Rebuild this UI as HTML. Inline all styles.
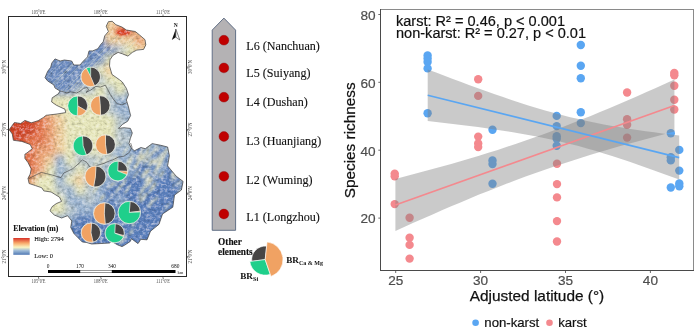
<!DOCTYPE html>
<html><head><meta charset="utf-8"><style>
html,body{margin:0;padding:0;background:#fff;width:700px;height:334px;overflow:hidden}
svg{display:block;will-change:transform}
</style></head><body>
<svg width="700" height="334" viewBox="0 0 700 334">
<defs>
<clipPath id="mapclip"><polygon points="108.4,21.7 112.2,21.3 115.9,24.7 121.9,27.0 126.4,30.0 135.3,31.5 139.8,35.2 145.0,39.7 145.8,44.9 143.6,49.4 136.8,50.1 132.3,52.4 127.9,56.1 122.6,53.9 118.1,52.4 112.9,55.4 109.9,59.9 109.5,66.0 112.0,74.5 119.4,79.7 122.3,82.0 126.4,88.4 128.5,94.7 126.4,100.0 128.5,107.0 130.6,115.6 127.7,121.2 122.5,124.4 118.5,128.4 123.8,127.7 130.4,128.4 132.3,133.0 130.4,138.3 129.0,143.5 131.0,147.5 134.3,150.8 140.9,147.5 145.3,148.7 152.2,143.6 160.8,145.3 167.6,147.0 169.4,155.6 167.6,165.9 176.2,176.2 183.1,181.4 181.4,190.0 174.5,195.1 172.8,207.2 162.5,214.0 159.0,224.3 150.5,231.2 147.0,239.8 140.8,239.3 138.0,243.6 131.4,238.7 130.3,241.4 124.9,245.0 122.0,246.6 117.9,245.0 111.4,241.4 109.5,243.0 101.0,243.5 91.7,244.0 86.3,242.4 82.3,242.0 78.0,237.7 73.9,233.5 70.7,227.3 71.8,221.0 67.6,215.7 61.6,218.0 54.3,215.0 50.0,210.8 52.2,206.6 56.4,203.5 61.6,201.4 59.5,197.2 51.1,192.0 43.8,190.9 41.7,187.7 35.4,185.6 29.1,183.5 28.0,178.3 30.2,174.1 31.2,168.9 28.0,162.6 24.9,158.4 24.9,154.2 27.0,152.9 32.3,148.7 30.2,144.5 21.8,141.4 13.4,140.3 12.3,134.0 9.2,129.8 11.3,126.7 14.4,122.5 20.7,123.5 24.9,120.4 31.3,122.8 38.1,120.7 43.5,117.4 46.2,115.3 57.0,114.0 65.7,112.6 65.0,109.3 56.3,105.2 51.6,101.9 52.2,97.8 58.3,93.8 60.0,91.0 55.0,88.0 53.9,85.0 47.6,80.9 45.0,77.7 47.6,71.4 50.7,67.3 51.8,63.0 55.0,58.9 60.2,61.0 64.4,60.0 71.7,61.0 73.8,65.0 80.0,65.0 83.0,61.4 87.5,56.9 89.0,50.9 92.7,50.9 97.9,48.7 100.9,44.2 103.2,41.9 104.7,35.9 108.4,31.5 106.2,26.2"/></clipPath>
<filter id="blur6" x="-50%" y="-50%" width="200%" height="200%"><feGaussianBlur stdDeviation="6"/></filter>
<filter id="blur3" x="-50%" y="-50%" width="200%" height="200%"><feGaussianBlur stdDeviation="3"/></filter>
<filter id="blur1" x="-50%" y="-50%" width="200%" height="200%"><feGaussianBlur stdDeviation="1.2"/></filter>
<linearGradient id="elev" x1="0" y1="0" x2="0" y2="1"><stop offset="0" stop-color="#d73027"/><stop offset="0.3" stop-color="#f8a96a"/><stop offset="0.55" stop-color="#fbf4c0"/><stop offset="0.75" stop-color="#9fbcd8"/><stop offset="1" stop-color="#4f78b4"/></linearGradient>
<filter id="texblend" x="0" y="0" width="200" height="300" filterUnits="userSpaceOnUse"><feTurbulence type="fractalNoise" baseFrequency="0.28 0.35" numOctaves="3" seed="5" result="noise"/><feColorMatrix in="noise" type="matrix" values="0.33 0.33 0.33 0 0.005  0.33 0.33 0.33 0 0.005  0.33 0.33 0.33 0 0.005  0 0 0 0 1" result="g"/><feBlend in="SourceGraphic" in2="g" mode="overlay" result="b"/><feComposite in="b" in2="SourceAlpha" operator="in"/></filter>
</defs>
<rect x="8.5" y="16.5" width="178" height="260" fill="#fff" stroke="#2a2a2a" stroke-width="1"/>
<line x1="38.5" y1="14.5" x2="38.5" y2="16.5" stroke="#333" stroke-width="0.6"/>
<text x="38.5" y="13.8" font-family="Liberation Serif" font-size="5.4" fill="#4a4a4a" text-anchor="middle" textLength="14" lengthAdjust="spacingAndGlyphs">105°0'E</text>
<line x1="38.5" y1="276.5" x2="38.5" y2="278.5" stroke="#333" stroke-width="0.6"/>
<text x="38.5" y="282.8" font-family="Liberation Serif" font-size="5.4" fill="#4a4a4a" text-anchor="middle" textLength="14" lengthAdjust="spacingAndGlyphs">105°0'E</text>
<line x1="100.8" y1="14.5" x2="100.8" y2="16.5" stroke="#333" stroke-width="0.6"/>
<text x="100.8" y="13.8" font-family="Liberation Serif" font-size="5.4" fill="#4a4a4a" text-anchor="middle" textLength="14" lengthAdjust="spacingAndGlyphs">108°0'E</text>
<line x1="100.8" y1="276.5" x2="100.8" y2="278.5" stroke="#333" stroke-width="0.6"/>
<text x="100.8" y="282.8" font-family="Liberation Serif" font-size="5.4" fill="#4a4a4a" text-anchor="middle" textLength="14" lengthAdjust="spacingAndGlyphs">108°0'E</text>
<line x1="163" y1="14.5" x2="163" y2="16.5" stroke="#333" stroke-width="0.6"/>
<text x="163" y="13.8" font-family="Liberation Serif" font-size="5.4" fill="#4a4a4a" text-anchor="middle" textLength="14" lengthAdjust="spacingAndGlyphs">111°0'E</text>
<line x1="163" y1="276.5" x2="163" y2="278.5" stroke="#333" stroke-width="0.6"/>
<text x="163" y="282.8" font-family="Liberation Serif" font-size="5.4" fill="#4a4a4a" text-anchor="middle" textLength="14" lengthAdjust="spacingAndGlyphs">111°0'E</text>
<line x1="6.5" y1="67" x2="8.5" y2="67" stroke="#333" stroke-width="0.6"/>
<text transform="translate(5.8,67) rotate(-90)" font-family="Liberation Serif" font-size="5.4" fill="#4a4a4a" text-anchor="middle" textLength="14" lengthAdjust="spacingAndGlyphs">30°0'N</text>
<line x1="186.5" y1="67" x2="188.5" y2="67" stroke="#333" stroke-width="0.6"/>
<text transform="translate(192.3,67) rotate(-90)" font-family="Liberation Serif" font-size="5.4" fill="#4a4a4a" text-anchor="middle" textLength="14" lengthAdjust="spacingAndGlyphs">30°0'N</text>
<line x1="6.5" y1="129.5" x2="8.5" y2="129.5" stroke="#333" stroke-width="0.6"/>
<text transform="translate(5.8,129.5) rotate(-90)" font-family="Liberation Serif" font-size="5.4" fill="#4a4a4a" text-anchor="middle" textLength="14" lengthAdjust="spacingAndGlyphs">27°0'N</text>
<line x1="186.5" y1="129.5" x2="188.5" y2="129.5" stroke="#333" stroke-width="0.6"/>
<text transform="translate(192.3,129.5) rotate(-90)" font-family="Liberation Serif" font-size="5.4" fill="#4a4a4a" text-anchor="middle" textLength="14" lengthAdjust="spacingAndGlyphs">27°0'N</text>
<line x1="6.5" y1="193.2" x2="8.5" y2="193.2" stroke="#333" stroke-width="0.6"/>
<text transform="translate(5.8,193.2) rotate(-90)" font-family="Liberation Serif" font-size="5.4" fill="#4a4a4a" text-anchor="middle" textLength="14" lengthAdjust="spacingAndGlyphs">24°0'N</text>
<line x1="186.5" y1="193.2" x2="188.5" y2="193.2" stroke="#333" stroke-width="0.6"/>
<text transform="translate(192.3,193.2) rotate(-90)" font-family="Liberation Serif" font-size="5.4" fill="#4a4a4a" text-anchor="middle" textLength="14" lengthAdjust="spacingAndGlyphs">24°0'N</text>
<line x1="6.5" y1="256.6" x2="8.5" y2="256.6" stroke="#333" stroke-width="0.6"/>
<text transform="translate(5.8,256.6) rotate(-90)" font-family="Liberation Serif" font-size="5.4" fill="#4a4a4a" text-anchor="middle" textLength="14" lengthAdjust="spacingAndGlyphs">21°0'N</text>
<line x1="186.5" y1="256.6" x2="188.5" y2="256.6" stroke="#333" stroke-width="0.6"/>
<text transform="translate(192.3,256.6) rotate(-90)" font-family="Liberation Serif" font-size="5.4" fill="#4a4a4a" text-anchor="middle" textLength="14" lengthAdjust="spacingAndGlyphs">21°0'N</text>
<g clip-path="url(#mapclip)"><g filter="url(#texblend)">
<rect x="0" y="0" width="200" height="280" fill="#5b81be"/>
<g filter="url(#blur3)"><rect x="100" y="15" width="10" height="10" fill="#f0cf9e"/><rect x="110" y="15" width="10" height="10" fill="#f0cf9e"/><rect x="120" y="15" width="10" height="10" fill="#f0cf9e"/><rect x="95" y="25" width="10" height="10" fill="#f0cf9e"/><rect x="105" y="25" width="10" height="10" fill="#f0cf9e"/><rect x="115" y="25" width="10" height="10" fill="#e5774e"/><rect x="125" y="25" width="10" height="10" fill="#e5774e"/><rect x="135" y="25" width="10" height="10" fill="#f0cf9e"/><rect x="145" y="25" width="10" height="10" fill="#f0cf9e"/><rect x="85" y="35" width="10" height="10" fill="#6d8dc2"/><rect x="95" y="35" width="10" height="10" fill="#6d8dc2"/><rect x="105" y="35" width="10" height="10" fill="#f0cf9e"/><rect x="115" y="35" width="10" height="10" fill="#f0cf9e"/><rect x="125" y="35" width="10" height="10" fill="#f0cf9e"/><rect x="135" y="35" width="10" height="10" fill="#eca274"/><rect x="145" y="35" width="10" height="10" fill="#f0cf9e"/><rect x="75" y="45" width="10" height="10" fill="#6d8dc2"/><rect x="85" y="45" width="10" height="10" fill="#6d8dc2"/><rect x="95" y="45" width="10" height="10" fill="#6d8dc2"/><rect x="105" y="45" width="10" height="10" fill="#6d8dc2"/><rect x="115" y="45" width="10" height="10" fill="#b8c6cc"/><rect x="125" y="45" width="10" height="10" fill="#e6e6ba"/><rect x="135" y="45" width="10" height="10" fill="#f0cf9e"/><rect x="145" y="45" width="10" height="10" fill="#f0cf9e"/><rect x="35" y="55" width="10" height="10" fill="#6d8dc2"/><rect x="45" y="55" width="10" height="10" fill="#6d8dc2"/><rect x="55" y="55" width="10" height="10" fill="#6d8dc2"/><rect x="65" y="55" width="10" height="10" fill="#6d8dc2"/><rect x="75" y="55" width="10" height="10" fill="#6d8dc2"/><rect x="85" y="55" width="10" height="10" fill="#6d8dc2"/><rect x="95" y="55" width="10" height="10" fill="#6d8dc2"/><rect x="105" y="55" width="10" height="10" fill="#e6e6ba"/><rect x="115" y="55" width="10" height="10" fill="#f0cf9e"/><rect x="125" y="55" width="10" height="10" fill="#e6e6ba"/><rect x="35" y="65" width="10" height="10" fill="#6d8dc2"/><rect x="45" y="65" width="10" height="10" fill="#6d8dc2"/><rect x="55" y="65" width="10" height="10" fill="#6d8dc2"/><rect x="65" y="65" width="10" height="10" fill="#6d8dc2"/><rect x="75" y="65" width="10" height="10" fill="#6d8dc2"/><rect x="85" y="65" width="10" height="10" fill="#6d8dc2"/><rect x="95" y="65" width="10" height="10" fill="#e6e6ba"/><rect x="105" y="65" width="10" height="10" fill="#f0cf9e"/><rect x="115" y="65" width="10" height="10" fill="#e6e6ba"/><rect x="125" y="65" width="10" height="10" fill="#e6e6ba"/><rect x="35" y="75" width="10" height="10" fill="#6d8dc2"/><rect x="45" y="75" width="10" height="10" fill="#6d8dc2"/><rect x="55" y="75" width="10" height="10" fill="#6d8dc2"/><rect x="65" y="75" width="10" height="10" fill="#6d8dc2"/><rect x="75" y="75" width="10" height="10" fill="#6d8dc2"/><rect x="85" y="75" width="10" height="10" fill="#6d8dc2"/><rect x="95" y="75" width="10" height="10" fill="#b8c6cc"/><rect x="105" y="75" width="10" height="10" fill="#e6e6ba"/><rect x="115" y="75" width="10" height="10" fill="#e6e6ba"/><rect x="125" y="75" width="10" height="10" fill="#e6e6ba"/><rect x="35" y="85" width="10" height="10" fill="#6d8dc2"/><rect x="45" y="85" width="10" height="10" fill="#6d8dc2"/><rect x="55" y="85" width="10" height="10" fill="#6d8dc2"/><rect x="65" y="85" width="10" height="10" fill="#6d8dc2"/><rect x="75" y="85" width="10" height="10" fill="#b8c6cc"/><rect x="85" y="85" width="10" height="10" fill="#b8c6cc"/><rect x="95" y="85" width="10" height="10" fill="#e6e6ba"/><rect x="105" y="85" width="10" height="10" fill="#b8c6cc"/><rect x="115" y="85" width="10" height="10" fill="#e6e6ba"/><rect x="125" y="85" width="10" height="10" fill="#b8c6cc"/><rect x="35" y="95" width="10" height="10" fill="#e6e6ba"/><rect x="45" y="95" width="10" height="10" fill="#e6e6ba"/><rect x="55" y="95" width="10" height="10" fill="#e6e6ba"/><rect x="65" y="95" width="10" height="10" fill="#e6e6ba"/><rect x="75" y="95" width="10" height="10" fill="#e6e6ba"/><rect x="85" y="95" width="10" height="10" fill="#e6e6ba"/><rect x="95" y="95" width="10" height="10" fill="#e6e6ba"/><rect x="105" y="95" width="10" height="10" fill="#b8c6cc"/><rect x="115" y="95" width="10" height="10" fill="#98b2d0"/><rect x="125" y="95" width="10" height="10" fill="#98b2d0"/><rect x="-5" y="105" width="10" height="10" fill="#d54a2b"/><rect x="5" y="105" width="10" height="10" fill="#d54a2b"/><rect x="15" y="105" width="10" height="10" fill="#d54a2b"/><rect x="25" y="105" width="10" height="10" fill="#e5774e"/><rect x="35" y="105" width="10" height="10" fill="#eca274"/><rect x="45" y="105" width="10" height="10" fill="#f0cf9e"/><rect x="55" y="105" width="10" height="10" fill="#e6e6ba"/><rect x="65" y="105" width="10" height="10" fill="#e6e6ba"/><rect x="75" y="105" width="10" height="10" fill="#e6e6ba"/><rect x="85" y="105" width="10" height="10" fill="#e6e6ba"/><rect x="95" y="105" width="10" height="10" fill="#e6e6ba"/><rect x="105" y="105" width="10" height="10" fill="#b8c6cc"/><rect x="115" y="105" width="10" height="10" fill="#98b2d0"/><rect x="125" y="105" width="10" height="10" fill="#98b2d0"/><rect x="-5" y="115" width="10" height="10" fill="#d54a2b"/><rect x="5" y="115" width="10" height="10" fill="#d54a2b"/><rect x="15" y="115" width="10" height="10" fill="#d54a2b"/><rect x="25" y="115" width="10" height="10" fill="#d54a2b"/><rect x="35" y="115" width="10" height="10" fill="#e5774e"/><rect x="45" y="115" width="10" height="10" fill="#eca274"/><rect x="55" y="115" width="10" height="10" fill="#f0cf9e"/><rect x="65" y="115" width="10" height="10" fill="#e6e6ba"/><rect x="75" y="115" width="10" height="10" fill="#e6e6ba"/><rect x="85" y="115" width="10" height="10" fill="#e6e6ba"/><rect x="95" y="115" width="10" height="10" fill="#e6e6ba"/><rect x="105" y="115" width="10" height="10" fill="#e6e6ba"/><rect x="115" y="115" width="10" height="10" fill="#b8c6cc"/><rect x="125" y="115" width="10" height="10" fill="#98b2d0"/><rect x="135" y="115" width="10" height="10" fill="#98b2d0"/><rect x="145" y="115" width="10" height="10" fill="#98b2d0"/><rect x="-5" y="125" width="10" height="10" fill="#d54a2b"/><rect x="5" y="125" width="10" height="10" fill="#d54a2b"/><rect x="15" y="125" width="10" height="10" fill="#d54a2b"/><rect x="25" y="125" width="10" height="10" fill="#d54a2b"/><rect x="35" y="125" width="10" height="10" fill="#e5774e"/><rect x="45" y="125" width="10" height="10" fill="#eca274"/><rect x="55" y="125" width="10" height="10" fill="#f0cf9e"/><rect x="65" y="125" width="10" height="10" fill="#e6e6ba"/><rect x="75" y="125" width="10" height="10" fill="#e6e6ba"/><rect x="85" y="125" width="10" height="10" fill="#e6e6ba"/><rect x="95" y="125" width="10" height="10" fill="#e6e6ba"/><rect x="105" y="125" width="10" height="10" fill="#e6e6ba"/><rect x="115" y="125" width="10" height="10" fill="#b8c6cc"/><rect x="125" y="125" width="10" height="10" fill="#98b2d0"/><rect x="135" y="125" width="10" height="10" fill="#98b2d0"/><rect x="-5" y="135" width="10" height="10" fill="#d54a2b"/><rect x="5" y="135" width="10" height="10" fill="#d54a2b"/><rect x="15" y="135" width="10" height="10" fill="#d54a2b"/><rect x="25" y="135" width="10" height="10" fill="#e5774e"/><rect x="35" y="135" width="10" height="10" fill="#e5774e"/><rect x="45" y="135" width="10" height="10" fill="#eca274"/><rect x="55" y="135" width="10" height="10" fill="#f0cf9e"/><rect x="65" y="135" width="10" height="10" fill="#e6e6ba"/><rect x="75" y="135" width="10" height="10" fill="#e6e6ba"/><rect x="85" y="135" width="10" height="10" fill="#e6e6ba"/><rect x="95" y="135" width="10" height="10" fill="#e6e6ba"/><rect x="105" y="135" width="10" height="10" fill="#e6e6ba"/><rect x="115" y="135" width="10" height="10" fill="#b8c6cc"/><rect x="125" y="135" width="10" height="10" fill="#b8c6cc"/><rect x="135" y="135" width="10" height="10" fill="#98b2d0"/><rect x="145" y="135" width="10" height="10" fill="#98b2d0"/><rect x="155" y="135" width="10" height="10" fill="#98b2d0"/><rect x="-5" y="145" width="10" height="10" fill="#e5774e"/><rect x="5" y="145" width="10" height="10" fill="#e5774e"/><rect x="15" y="145" width="10" height="10" fill="#e5774e"/><rect x="25" y="145" width="10" height="10" fill="#e5774e"/><rect x="35" y="145" width="10" height="10" fill="#eca274"/><rect x="45" y="145" width="10" height="10" fill="#eca274"/><rect x="55" y="145" width="10" height="10" fill="#f0cf9e"/><rect x="65" y="145" width="10" height="10" fill="#e6e6ba"/><rect x="75" y="145" width="10" height="10" fill="#b8c6cc"/><rect x="85" y="145" width="10" height="10" fill="#e6e6ba"/><rect x="95" y="145" width="10" height="10" fill="#e6e6ba"/><rect x="105" y="145" width="10" height="10" fill="#b8c6cc"/><rect x="115" y="145" width="10" height="10" fill="#98b2d0"/><rect x="125" y="145" width="10" height="10" fill="#98b2d0"/><rect x="135" y="145" width="10" height="10" fill="#5b81be"/><rect x="145" y="145" width="10" height="10" fill="#98b2d0"/><rect x="155" y="145" width="10" height="10" fill="#5b81be"/><rect x="165" y="145" width="10" height="10" fill="#98b2d0"/><rect x="-5" y="155" width="10" height="10" fill="#e5774e"/><rect x="5" y="155" width="10" height="10" fill="#e5774e"/><rect x="15" y="155" width="10" height="10" fill="#e5774e"/><rect x="25" y="155" width="10" height="10" fill="#e5774e"/><rect x="35" y="155" width="10" height="10" fill="#eca274"/><rect x="45" y="155" width="10" height="10" fill="#f0cf9e"/><rect x="55" y="155" width="10" height="10" fill="#98b2d0"/><rect x="65" y="155" width="10" height="10" fill="#e6e6ba"/><rect x="75" y="155" width="10" height="10" fill="#b8c6cc"/><rect x="85" y="155" width="10" height="10" fill="#b8c6cc"/><rect x="95" y="155" width="10" height="10" fill="#b8c6cc"/><rect x="105" y="155" width="10" height="10" fill="#b8c6cc"/><rect x="115" y="155" width="10" height="10" fill="#98b2d0"/><rect x="125" y="155" width="10" height="10" fill="#98b2d0"/><rect x="135" y="155" width="10" height="10" fill="#5b81be"/><rect x="145" y="155" width="10" height="10" fill="#5b81be"/><rect x="155" y="155" width="10" height="10" fill="#98b2d0"/><rect x="165" y="155" width="10" height="10" fill="#5b81be"/><rect x="-5" y="165" width="10" height="10" fill="#e5774e"/><rect x="5" y="165" width="10" height="10" fill="#e5774e"/><rect x="15" y="165" width="10" height="10" fill="#e5774e"/><rect x="25" y="165" width="10" height="10" fill="#e5774e"/><rect x="35" y="165" width="10" height="10" fill="#eca274"/><rect x="45" y="165" width="10" height="10" fill="#e6e6ba"/><rect x="55" y="165" width="10" height="10" fill="#98b2d0"/><rect x="65" y="165" width="10" height="10" fill="#b8c6cc"/><rect x="75" y="165" width="10" height="10" fill="#e6e6ba"/><rect x="85" y="165" width="10" height="10" fill="#b8c6cc"/><rect x="95" y="165" width="10" height="10" fill="#b8c6cc"/><rect x="105" y="165" width="10" height="10" fill="#98b2d0"/><rect x="115" y="165" width="10" height="10" fill="#98b2d0"/><rect x="125" y="165" width="10" height="10" fill="#98b2d0"/><rect x="135" y="165" width="10" height="10" fill="#5b81be"/><rect x="145" y="165" width="10" height="10" fill="#5b81be"/><rect x="155" y="165" width="10" height="10" fill="#98b2d0"/><rect x="165" y="165" width="10" height="10" fill="#5b81be"/><rect x="175" y="165" width="10" height="10" fill="#5b81be"/><rect x="-5" y="175" width="10" height="10" fill="#eca274"/><rect x="5" y="175" width="10" height="10" fill="#eca274"/><rect x="15" y="175" width="10" height="10" fill="#eca274"/><rect x="25" y="175" width="10" height="10" fill="#eca274"/><rect x="35" y="175" width="10" height="10" fill="#e6e6ba"/><rect x="45" y="175" width="10" height="10" fill="#e6e6ba"/><rect x="55" y="175" width="10" height="10" fill="#98b2d0"/><rect x="65" y="175" width="10" height="10" fill="#e6e6ba"/><rect x="75" y="175" width="10" height="10" fill="#f0cf9e"/><rect x="85" y="175" width="10" height="10" fill="#b8c6cc"/><rect x="95" y="175" width="10" height="10" fill="#98b2d0"/><rect x="105" y="175" width="10" height="10" fill="#98b2d0"/><rect x="115" y="175" width="10" height="10" fill="#5b81be"/><rect x="125" y="175" width="10" height="10" fill="#5b81be"/><rect x="135" y="175" width="10" height="10" fill="#5b81be"/><rect x="145" y="175" width="10" height="10" fill="#98b2d0"/><rect x="155" y="175" width="10" height="10" fill="#5b81be"/><rect x="165" y="175" width="10" height="10" fill="#5b81be"/><rect x="175" y="175" width="10" height="10" fill="#5b81be"/><rect x="185" y="175" width="10" height="10" fill="#5b81be"/><rect x="-5" y="185" width="10" height="10" fill="#f0cf9e"/><rect x="5" y="185" width="10" height="10" fill="#f0cf9e"/><rect x="15" y="185" width="10" height="10" fill="#f0cf9e"/><rect x="25" y="185" width="10" height="10" fill="#f0cf9e"/><rect x="35" y="185" width="10" height="10" fill="#e6e6ba"/><rect x="45" y="185" width="10" height="10" fill="#e6e6ba"/><rect x="55" y="185" width="10" height="10" fill="#b8c6cc"/><rect x="65" y="185" width="10" height="10" fill="#98b2d0"/><rect x="75" y="185" width="10" height="10" fill="#e6e6ba"/><rect x="85" y="185" width="10" height="10" fill="#b8c6cc"/><rect x="95" y="185" width="10" height="10" fill="#98b2d0"/><rect x="105" y="185" width="10" height="10" fill="#5b81be"/><rect x="115" y="185" width="10" height="10" fill="#5b81be"/><rect x="125" y="185" width="10" height="10" fill="#5b81be"/><rect x="135" y="185" width="10" height="10" fill="#5b81be"/><rect x="145" y="185" width="10" height="10" fill="#5b81be"/><rect x="155" y="185" width="10" height="10" fill="#5b81be"/><rect x="165" y="185" width="10" height="10" fill="#5b81be"/><rect x="175" y="185" width="10" height="10" fill="#5b81be"/><rect x="185" y="185" width="10" height="10" fill="#5b81be"/><rect x="-5" y="195" width="10" height="10" fill="#e6e6ba"/><rect x="5" y="195" width="10" height="10" fill="#e6e6ba"/><rect x="15" y="195" width="10" height="10" fill="#e6e6ba"/><rect x="25" y="195" width="10" height="10" fill="#e6e6ba"/><rect x="35" y="195" width="10" height="10" fill="#e6e6ba"/><rect x="45" y="195" width="10" height="10" fill="#e6e6ba"/><rect x="55" y="195" width="10" height="10" fill="#e6e6ba"/><rect x="65" y="195" width="10" height="10" fill="#98b2d0"/><rect x="75" y="195" width="10" height="10" fill="#98b2d0"/><rect x="85" y="195" width="10" height="10" fill="#b8c6cc"/><rect x="95" y="195" width="10" height="10" fill="#98b2d0"/><rect x="105" y="195" width="10" height="10" fill="#5b81be"/><rect x="115" y="195" width="10" height="10" fill="#98b2d0"/><rect x="125" y="195" width="10" height="10" fill="#5b81be"/><rect x="135" y="195" width="10" height="10" fill="#5b81be"/><rect x="145" y="195" width="10" height="10" fill="#5b81be"/><rect x="155" y="195" width="10" height="10" fill="#5b81be"/><rect x="165" y="195" width="10" height="10" fill="#5b81be"/><rect x="175" y="195" width="10" height="10" fill="#5b81be"/><rect x="-5" y="205" width="10" height="10" fill="#e6e6ba"/><rect x="5" y="205" width="10" height="10" fill="#e6e6ba"/><rect x="15" y="205" width="10" height="10" fill="#e6e6ba"/><rect x="25" y="205" width="10" height="10" fill="#e6e6ba"/><rect x="35" y="205" width="10" height="10" fill="#e6e6ba"/><rect x="45" y="205" width="10" height="10" fill="#e6e6ba"/><rect x="55" y="205" width="10" height="10" fill="#e6e6ba"/><rect x="65" y="205" width="10" height="10" fill="#b8c6cc"/><rect x="75" y="205" width="10" height="10" fill="#98b2d0"/><rect x="85" y="205" width="10" height="10" fill="#98b2d0"/><rect x="95" y="205" width="10" height="10" fill="#5b81be"/><rect x="105" y="205" width="10" height="10" fill="#5b81be"/><rect x="115" y="205" width="10" height="10" fill="#5b81be"/><rect x="125" y="205" width="10" height="10" fill="#5b81be"/><rect x="135" y="205" width="10" height="10" fill="#5b81be"/><rect x="145" y="205" width="10" height="10" fill="#5b81be"/><rect x="155" y="205" width="10" height="10" fill="#5b81be"/><rect x="165" y="205" width="10" height="10" fill="#5b81be"/><rect x="175" y="205" width="10" height="10" fill="#5b81be"/><rect x="-5" y="215" width="10" height="10" fill="#98b2d0"/><rect x="5" y="215" width="10" height="10" fill="#98b2d0"/><rect x="15" y="215" width="10" height="10" fill="#98b2d0"/><rect x="25" y="215" width="10" height="10" fill="#98b2d0"/><rect x="35" y="215" width="10" height="10" fill="#98b2d0"/><rect x="45" y="215" width="10" height="10" fill="#98b2d0"/><rect x="55" y="215" width="10" height="10" fill="#98b2d0"/><rect x="65" y="215" width="10" height="10" fill="#98b2d0"/><rect x="75" y="215" width="10" height="10" fill="#5b81be"/><rect x="85" y="215" width="10" height="10" fill="#5b81be"/><rect x="95" y="215" width="10" height="10" fill="#5b81be"/><rect x="105" y="215" width="10" height="10" fill="#5b81be"/><rect x="115" y="215" width="10" height="10" fill="#5b81be"/><rect x="125" y="215" width="10" height="10" fill="#5b81be"/><rect x="135" y="215" width="10" height="10" fill="#5b81be"/><rect x="145" y="215" width="10" height="10" fill="#5b81be"/><rect x="155" y="215" width="10" height="10" fill="#5b81be"/><rect x="165" y="215" width="10" height="10" fill="#5b81be"/><rect x="175" y="215" width="10" height="10" fill="#5b81be"/><rect x="-5" y="225" width="10" height="10" fill="#5b81be"/><rect x="5" y="225" width="10" height="10" fill="#5b81be"/><rect x="15" y="225" width="10" height="10" fill="#5b81be"/><rect x="25" y="225" width="10" height="10" fill="#5b81be"/><rect x="35" y="225" width="10" height="10" fill="#5b81be"/><rect x="45" y="225" width="10" height="10" fill="#5b81be"/><rect x="55" y="225" width="10" height="10" fill="#5b81be"/><rect x="65" y="225" width="10" height="10" fill="#5b81be"/><rect x="75" y="225" width="10" height="10" fill="#5b81be"/><rect x="85" y="225" width="10" height="10" fill="#5b81be"/><rect x="95" y="225" width="10" height="10" fill="#5b81be"/><rect x="105" y="225" width="10" height="10" fill="#5b81be"/><rect x="115" y="225" width="10" height="10" fill="#5b81be"/><rect x="125" y="225" width="10" height="10" fill="#5b81be"/><rect x="135" y="225" width="10" height="10" fill="#5b81be"/><rect x="145" y="225" width="10" height="10" fill="#5b81be"/><rect x="155" y="225" width="10" height="10" fill="#5b81be"/><rect x="165" y="225" width="10" height="10" fill="#5b81be"/><rect x="175" y="225" width="10" height="10" fill="#5b81be"/><rect x="185" y="225" width="10" height="10" fill="#5b81be"/></g>
<ellipse cx="123" cy="32.5" rx="7" ry="3" fill="#dc3f22" filter="url(#blur1)"/>
<clipPath id="cqclip"><polygon points="60,91 55,88 53.9,85 47.6,80.9 45,77.7 47.6,71.4 50.7,67.3 51.8,63 55,58.9 60.2,61 64.4,60 71.7,61 73.8,65 80,65 83,61.4 87.5,56.9 89,50.9 92.7,50.9 97.9,48.7 100.9,44.2 103.2,41.9 104.7,35.9 108,33 118,34 130,36 140,45 132,52 122,54 112,57 104,70 100,86 90,90 76,93 67,93"/></clipPath>
<g clip-path="url(#cqclip)"><line x1="19.6" y1="100" x2="85.5" y2="30" stroke="#e2e4cc" stroke-width="0.54" opacity="0.50"/><line x1="23.7" y1="100" x2="92.1" y2="30" stroke="#e2e4cc" stroke-width="0.80" opacity="0.32"/><line x1="26.3" y1="100" x2="95.5" y2="30" stroke="#e2e4cc" stroke-width="0.55" opacity="0.32"/><line x1="30.6" y1="100" x2="104.6" y2="30" stroke="#e2e4cc" stroke-width="0.63" opacity="0.34"/><line x1="34.7" y1="100" x2="110.0" y2="30" stroke="#e2e4cc" stroke-width="0.74" opacity="0.47"/><line x1="39.0" y1="100" x2="103.5" y2="30" stroke="#e2e4cc" stroke-width="0.67" opacity="0.56"/><line x1="40.9" y1="100" x2="106.3" y2="30" stroke="#e2e4cc" stroke-width="0.99" opacity="0.39"/><line x1="44.6" y1="100" x2="115.5" y2="30" stroke="#e2e4cc" stroke-width="0.72" opacity="0.49"/><line x1="48.9" y1="100" x2="113.6" y2="30" stroke="#e2e4cc" stroke-width="0.62" opacity="0.32"/><line x1="52.8" y1="100" x2="121.9" y2="30" stroke="#e2e4cc" stroke-width="0.85" opacity="0.39"/><line x1="55.9" y1="100" x2="123.5" y2="30" stroke="#e2e4cc" stroke-width="0.92" opacity="0.54"/><line x1="59.1" y1="100" x2="130.0" y2="30" stroke="#e2e4cc" stroke-width="1.03" opacity="0.46"/><line x1="63.7" y1="100" x2="131.1" y2="30" stroke="#e2e4cc" stroke-width="0.57" opacity="0.59"/><line x1="66.6" y1="100" x2="139.7" y2="30" stroke="#e2e4cc" stroke-width="0.79" opacity="0.35"/><line x1="69.5" y1="100" x2="141.5" y2="30" stroke="#e2e4cc" stroke-width="0.84" opacity="0.53"/><line x1="74.8" y1="100" x2="142.5" y2="30" stroke="#e2e4cc" stroke-width="0.86" opacity="0.51"/><line x1="77.8" y1="100" x2="147.2" y2="30" stroke="#e2e4cc" stroke-width="1.07" opacity="0.55"/><line x1="81.1" y1="100" x2="153.1" y2="30" stroke="#e2e4cc" stroke-width="0.92" opacity="0.32"/><line x1="85.1" y1="100" x2="161.0" y2="30" stroke="#e2e4cc" stroke-width="0.67" opacity="0.55"/><line x1="88.2" y1="100" x2="160.2" y2="30" stroke="#e2e4cc" stroke-width="0.78" opacity="0.31"/><line x1="91.3" y1="100" x2="156.7" y2="30" stroke="#e2e4cc" stroke-width="0.96" opacity="0.32"/><line x1="94.9" y1="100" x2="161.8" y2="30" stroke="#e2e4cc" stroke-width="1.02" opacity="0.42"/><line x1="98.4" y1="100" x2="167.8" y2="30" stroke="#e2e4cc" stroke-width="1.03" opacity="0.46"/><line x1="103.4" y1="100" x2="177.8" y2="30" stroke="#e2e4cc" stroke-width="0.75" opacity="0.38"/><line x1="106.1" y1="100" x2="180.7" y2="30" stroke="#e2e4cc" stroke-width="0.59" opacity="0.59"/><line x1="109.4" y1="100" x2="176.1" y2="30" stroke="#e2e4cc" stroke-width="0.79" opacity="0.37"/><line x1="113.8" y1="100" x2="180.9" y2="30" stroke="#e2e4cc" stroke-width="0.75" opacity="0.30"/><line x1="116.9" y1="100" x2="187.7" y2="30" stroke="#e2e4cc" stroke-width="0.91" opacity="0.59"/><line x1="120.8" y1="100" x2="192.2" y2="30" stroke="#e2e4cc" stroke-width="0.53" opacity="0.50"/><line x1="125.2" y1="100" x2="198.6" y2="30" stroke="#e2e4cc" stroke-width="0.98" opacity="0.56"/></g>
<g filter="url(#blur1)"><ellipse cx="164.0" cy="152.1" rx="0.8" ry="5.7" transform="rotate(35 164.0 152.1)" fill="#e2e0c0" opacity="0.69"/><ellipse cx="151.9" cy="202.7" rx="0.7" ry="4.6" transform="rotate(35 151.9 202.7)" fill="#e2e0c0" opacity="0.47"/><ellipse cx="111.5" cy="166.5" rx="1.2" ry="4.3" transform="rotate(35 111.5 166.5)" fill="#e2e0c0" opacity="0.74"/><ellipse cx="152.6" cy="187.4" rx="1.8" ry="6.5" transform="rotate(35 152.6 187.4)" fill="#e2e0c0" opacity="0.74"/><ellipse cx="156.6" cy="173.6" rx="1.0" ry="2.8" transform="rotate(35 156.6 173.6)" fill="#e2e0c0" opacity="0.72"/><ellipse cx="178.3" cy="225.2" rx="0.9" ry="6.1" transform="rotate(35 178.3 225.2)" fill="#e2e0c0" opacity="0.61"/><ellipse cx="180.3" cy="181.6" rx="1.4" ry="5.6" transform="rotate(35 180.3 181.6)" fill="#e2e0c0" opacity="0.54"/><ellipse cx="160.9" cy="154.4" rx="0.8" ry="2.7" transform="rotate(35 160.9 154.4)" fill="#e2e0c0" opacity="0.73"/><ellipse cx="110.5" cy="197.3" rx="0.9" ry="5.4" transform="rotate(35 110.5 197.3)" fill="#e2e0c0" opacity="0.50"/><ellipse cx="151.0" cy="154.3" rx="0.9" ry="3.6" transform="rotate(35 151.0 154.3)" fill="#e2e0c0" opacity="0.79"/><ellipse cx="123.6" cy="171.7" rx="0.8" ry="4.8" transform="rotate(35 123.6 171.7)" fill="#e2e0c0" opacity="0.54"/><ellipse cx="147.3" cy="179.1" rx="1.8" ry="4.4" transform="rotate(35 147.3 179.1)" fill="#e2e0c0" opacity="0.65"/><ellipse cx="170.4" cy="160.7" rx="1.7" ry="5.8" transform="rotate(35 170.4 160.7)" fill="#e2e0c0" opacity="0.54"/><ellipse cx="147.5" cy="183.9" rx="0.7" ry="6.4" transform="rotate(35 147.5 183.9)" fill="#e2e0c0" opacity="0.53"/><ellipse cx="146.9" cy="171.5" rx="1.5" ry="2.8" transform="rotate(35 146.9 171.5)" fill="#e2e0c0" opacity="0.53"/><ellipse cx="96.4" cy="169.1" rx="0.8" ry="3.2" transform="rotate(35 96.4 169.1)" fill="#e2e0c0" opacity="0.58"/><ellipse cx="144.8" cy="155.8" rx="1.7" ry="6.4" transform="rotate(35 144.8 155.8)" fill="#e2e0c0" opacity="0.68"/><ellipse cx="155.1" cy="199.7" rx="0.7" ry="2.6" transform="rotate(35 155.1 199.7)" fill="#e2e0c0" opacity="0.77"/><ellipse cx="156.0" cy="236.4" rx="1.4" ry="4.4" transform="rotate(35 156.0 236.4)" fill="#e2e0c0" opacity="0.71"/><ellipse cx="122.7" cy="239.9" rx="1.3" ry="5.4" transform="rotate(35 122.7 239.9)" fill="#e2e0c0" opacity="0.77"/><ellipse cx="174.6" cy="177.1" rx="1.7" ry="6.0" transform="rotate(35 174.6 177.1)" fill="#e2e0c0" opacity="0.60"/><ellipse cx="149.4" cy="180.1" rx="1.4" ry="2.8" transform="rotate(35 149.4 180.1)" fill="#e2e0c0" opacity="0.67"/><ellipse cx="133.3" cy="224.3" rx="1.5" ry="2.6" transform="rotate(35 133.3 224.3)" fill="#e2e0c0" opacity="0.66"/><ellipse cx="136.8" cy="165.3" rx="1.2" ry="5.0" transform="rotate(35 136.8 165.3)" fill="#e2e0c0" opacity="0.77"/><ellipse cx="117.3" cy="144.1" rx="1.4" ry="3.3" transform="rotate(35 117.3 144.1)" fill="#e2e0c0" opacity="0.51"/><ellipse cx="172.6" cy="174.7" rx="0.9" ry="4.2" transform="rotate(35 172.6 174.7)" fill="#e2e0c0" opacity="0.73"/><ellipse cx="145.7" cy="173.7" rx="1.2" ry="5.8" transform="rotate(35 145.7 173.7)" fill="#e2e0c0" opacity="0.75"/><ellipse cx="109.7" cy="186.7" rx="0.9" ry="4.2" transform="rotate(35 109.7 186.7)" fill="#e2e0c0" opacity="0.67"/><ellipse cx="180.4" cy="186.9" rx="0.7" ry="6.0" transform="rotate(35 180.4 186.9)" fill="#e2e0c0" opacity="0.46"/><ellipse cx="156.7" cy="198.3" rx="1.6" ry="2.6" transform="rotate(35 156.7 198.3)" fill="#e2e0c0" opacity="0.50"/><ellipse cx="134.6" cy="145.4" rx="1.0" ry="3.1" transform="rotate(35 134.6 145.4)" fill="#e2e0c0" opacity="0.47"/><ellipse cx="154.6" cy="162.3" rx="0.9" ry="2.5" transform="rotate(35 154.6 162.3)" fill="#e2e0c0" opacity="0.62"/><ellipse cx="157.1" cy="160.4" rx="1.1" ry="5.3" transform="rotate(35 157.1 160.4)" fill="#e2e0c0" opacity="0.63"/><ellipse cx="163.9" cy="230.9" rx="1.7" ry="5.4" transform="rotate(35 163.9 230.9)" fill="#e2e0c0" opacity="0.50"/><ellipse cx="151.7" cy="162.9" rx="1.6" ry="5.1" transform="rotate(35 151.7 162.9)" fill="#e2e0c0" opacity="0.70"/><ellipse cx="125.3" cy="151.0" rx="1.3" ry="5.6" transform="rotate(35 125.3 151.0)" fill="#e2e0c0" opacity="0.62"/><ellipse cx="97.5" cy="221.5" rx="1.6" ry="3.2" transform="rotate(35 97.5 221.5)" fill="#e2e0c0" opacity="0.57"/><ellipse cx="163.5" cy="156.6" rx="1.3" ry="5.4" transform="rotate(35 163.5 156.6)" fill="#e2e0c0" opacity="0.74"/><ellipse cx="177.6" cy="151.3" rx="1.3" ry="3.7" transform="rotate(35 177.6 151.3)" fill="#e2e0c0" opacity="0.71"/><ellipse cx="143.7" cy="173.2" rx="1.6" ry="6.1" transform="rotate(35 143.7 173.2)" fill="#e2e0c0" opacity="0.52"/><ellipse cx="144.9" cy="162.5" rx="1.3" ry="4.9" transform="rotate(35 144.9 162.5)" fill="#e2e0c0" opacity="0.46"/><ellipse cx="179.3" cy="193.1" rx="1.6" ry="4.8" transform="rotate(35 179.3 193.1)" fill="#e2e0c0" opacity="0.62"/><ellipse cx="155.1" cy="149.4" rx="1.2" ry="6.3" transform="rotate(35 155.1 149.4)" fill="#e2e0c0" opacity="0.77"/><ellipse cx="118.4" cy="188.9" rx="1.2" ry="5.8" transform="rotate(35 118.4 188.9)" fill="#e2e0c0" opacity="0.77"/><ellipse cx="136.5" cy="173.8" rx="1.4" ry="6.2" transform="rotate(35 136.5 173.8)" fill="#e2e0c0" opacity="0.50"/><ellipse cx="162.8" cy="145.2" rx="0.9" ry="5.2" transform="rotate(35 162.8 145.2)" fill="#e2e0c0" opacity="0.56"/><ellipse cx="125.9" cy="203.1" rx="1.5" ry="3.0" transform="rotate(35 125.9 203.1)" fill="#e2e0c0" opacity="0.63"/><ellipse cx="116.8" cy="162.2" rx="1.2" ry="4.0" transform="rotate(35 116.8 162.2)" fill="#e2e0c0" opacity="0.59"/><ellipse cx="141.1" cy="158.5" rx="1.4" ry="5.1" transform="rotate(35 141.1 158.5)" fill="#e2e0c0" opacity="0.64"/><ellipse cx="173.5" cy="173.6" rx="1.7" ry="3.4" transform="rotate(35 173.5 173.6)" fill="#e2e0c0" opacity="0.80"/><ellipse cx="172.2" cy="156.0" rx="1.5" ry="3.5" transform="rotate(35 172.2 156.0)" fill="#e2e0c0" opacity="0.48"/><ellipse cx="96.5" cy="162.5" rx="1.7" ry="6.4" transform="rotate(35 96.5 162.5)" fill="#e2e0c0" opacity="0.49"/><ellipse cx="154.7" cy="161.3" rx="0.8" ry="2.6" transform="rotate(35 154.7 161.3)" fill="#e2e0c0" opacity="0.64"/><ellipse cx="139.8" cy="198.2" rx="0.9" ry="3.3" transform="rotate(35 139.8 198.2)" fill="#e2e0c0" opacity="0.74"/><ellipse cx="181.2" cy="232.9" rx="0.8" ry="6.3" transform="rotate(35 181.2 232.9)" fill="#e2e0c0" opacity="0.61"/><ellipse cx="161.5" cy="174.7" rx="1.3" ry="4.2" transform="rotate(35 161.5 174.7)" fill="#e2e0c0" opacity="0.66"/><ellipse cx="130.3" cy="161.9" rx="1.3" ry="2.6" transform="rotate(35 130.3 161.9)" fill="#e2e0c0" opacity="0.76"/><ellipse cx="149.8" cy="182.2" rx="1.3" ry="6.4" transform="rotate(35 149.8 182.2)" fill="#e2e0c0" opacity="0.73"/><ellipse cx="157.9" cy="149.8" rx="1.2" ry="2.5" transform="rotate(35 157.9 149.8)" fill="#e2e0c0" opacity="0.57"/><ellipse cx="150.6" cy="203.5" rx="1.7" ry="5.2" transform="rotate(35 150.6 203.5)" fill="#e2e0c0" opacity="0.57"/><ellipse cx="117.3" cy="182.0" rx="0.9" ry="4.0" transform="rotate(35 117.3 182.0)" fill="#e2e0c0" opacity="0.48"/><ellipse cx="98.9" cy="233.2" rx="1.2" ry="3.2" transform="rotate(35 98.9 233.2)" fill="#e2e0c0" opacity="0.62"/><ellipse cx="148.2" cy="148.7" rx="1.2" ry="4.6" transform="rotate(35 148.2 148.7)" fill="#e2e0c0" opacity="0.66"/><ellipse cx="126.8" cy="170.7" rx="1.3" ry="3.6" transform="rotate(35 126.8 170.7)" fill="#e2e0c0" opacity="0.70"/><ellipse cx="120.8" cy="144.4" rx="0.7" ry="3.1" transform="rotate(35 120.8 144.4)" fill="#e2e0c0" opacity="0.71"/><ellipse cx="147.5" cy="154.2" rx="1.2" ry="3.3" transform="rotate(35 147.5 154.2)" fill="#e2e0c0" opacity="0.47"/><ellipse cx="140.9" cy="155.1" rx="1.4" ry="4.3" transform="rotate(35 140.9 155.1)" fill="#e2e0c0" opacity="0.54"/><ellipse cx="158.9" cy="166.1" rx="1.7" ry="5.6" transform="rotate(35 158.9 166.1)" fill="#e2e0c0" opacity="0.67"/><ellipse cx="126.2" cy="169.3" rx="1.3" ry="4.9" transform="rotate(35 126.2 169.3)" fill="#e2e0c0" opacity="0.67"/><ellipse cx="160.5" cy="161.4" rx="1.8" ry="6.2" transform="rotate(35 160.5 161.4)" fill="#e2e0c0" opacity="0.76"/><ellipse cx="98.4" cy="148.9" rx="1.2" ry="5.0" transform="rotate(35 98.4 148.9)" fill="#e2e0c0" opacity="0.49"/><ellipse cx="142.1" cy="150.0" rx="1.4" ry="4.7" transform="rotate(35 142.1 150.0)" fill="#e2e0c0" opacity="0.67"/><ellipse cx="127.5" cy="189.4" rx="1.1" ry="5.5" transform="rotate(35 127.5 189.4)" fill="#e2e0c0" opacity="0.74"/><ellipse cx="101.5" cy="154.6" rx="1.4" ry="5.6" transform="rotate(35 101.5 154.6)" fill="#e2e0c0" opacity="0.52"/><ellipse cx="175.1" cy="184.5" rx="0.8" ry="6.0" transform="rotate(35 175.1 184.5)" fill="#e2e0c0" opacity="0.48"/><ellipse cx="102.2" cy="197.7" rx="1.5" ry="3.7" transform="rotate(35 102.2 197.7)" fill="#e2e0c0" opacity="0.72"/><ellipse cx="101.6" cy="163.7" rx="0.8" ry="3.7" transform="rotate(35 101.6 163.7)" fill="#e2e0c0" opacity="0.70"/><ellipse cx="155.4" cy="170.4" rx="1.1" ry="5.4" transform="rotate(35 155.4 170.4)" fill="#e2e0c0" opacity="0.58"/><ellipse cx="172.8" cy="167.1" rx="1.1" ry="4.0" transform="rotate(35 172.8 167.1)" fill="#e2e0c0" opacity="0.59"/><ellipse cx="128.7" cy="161.9" rx="1.6" ry="4.7" transform="rotate(35 128.7 161.9)" fill="#e2e0c0" opacity="0.74"/><ellipse cx="144.0" cy="160.1" rx="1.7" ry="3.6" transform="rotate(35 144.0 160.1)" fill="#e2e0c0" opacity="0.46"/><ellipse cx="102.3" cy="150.9" rx="1.7" ry="2.8" transform="rotate(35 102.3 150.9)" fill="#e2e0c0" opacity="0.67"/><ellipse cx="116.4" cy="164.4" rx="1.3" ry="5.6" transform="rotate(35 116.4 164.4)" fill="#e2e0c0" opacity="0.59"/><ellipse cx="131.6" cy="157.2" rx="1.8" ry="4.0" transform="rotate(35 131.6 157.2)" fill="#e2e0c0" opacity="0.51"/><ellipse cx="112.8" cy="184.2" rx="1.8" ry="2.7" transform="rotate(35 112.8 184.2)" fill="#e2e0c0" opacity="0.56"/><ellipse cx="110.6" cy="149.0" rx="1.3" ry="6.1" transform="rotate(35 110.6 149.0)" fill="#e2e0c0" opacity="0.46"/><ellipse cx="104.5" cy="160.9" rx="1.0" ry="5.4" transform="rotate(35 104.5 160.9)" fill="#e2e0c0" opacity="0.66"/><ellipse cx="114.5" cy="160.9" rx="0.9" ry="5.5" transform="rotate(35 114.5 160.9)" fill="#e2e0c0" opacity="0.56"/><ellipse cx="137.0" cy="164.4" rx="1.7" ry="5.7" transform="rotate(35 137.0 164.4)" fill="#e2e0c0" opacity="0.58"/><ellipse cx="140.9" cy="193.0" rx="1.8" ry="5.1" transform="rotate(35 140.9 193.0)" fill="#e2e0c0" opacity="0.53"/><ellipse cx="95.9" cy="188.8" rx="1.6" ry="5.4" transform="rotate(35 95.9 188.8)" fill="#e2e0c0" opacity="0.66"/><ellipse cx="108.7" cy="158.2" rx="1.0" ry="6.0" transform="rotate(35 108.7 158.2)" fill="#e2e0c0" opacity="0.63"/><ellipse cx="141.5" cy="157.6" rx="0.7" ry="5.8" transform="rotate(35 141.5 157.6)" fill="#e2e0c0" opacity="0.75"/><ellipse cx="166.5" cy="151.0" rx="1.5" ry="2.9" transform="rotate(35 166.5 151.0)" fill="#e2e0c0" opacity="0.62"/><ellipse cx="131.3" cy="231.9" rx="1.6" ry="3.3" transform="rotate(35 131.3 231.9)" fill="#e2e0c0" opacity="0.64"/><ellipse cx="140.7" cy="158.3" rx="1.0" ry="3.7" transform="rotate(35 140.7 158.3)" fill="#e2e0c0" opacity="0.48"/><ellipse cx="126.3" cy="209.6" rx="1.1" ry="4.3" transform="rotate(35 126.3 209.6)" fill="#e2e0c0" opacity="0.79"/><ellipse cx="167.2" cy="206.4" rx="1.1" ry="5.3" transform="rotate(35 167.2 206.4)" fill="#e2e0c0" opacity="0.53"/><ellipse cx="144.1" cy="187.4" rx="1.8" ry="5.7" transform="rotate(35 144.1 187.4)" fill="#e2e0c0" opacity="0.52"/><ellipse cx="148.6" cy="171.2" rx="1.3" ry="3.7" transform="rotate(35 148.6 171.2)" fill="#e2e0c0" opacity="0.57"/><ellipse cx="129.1" cy="207.7" rx="0.9" ry="5.4" transform="rotate(35 129.1 207.7)" fill="#e2e0c0" opacity="0.57"/><ellipse cx="123.9" cy="223.2" rx="0.9" ry="2.9" transform="rotate(35 123.9 223.2)" fill="#e2e0c0" opacity="0.69"/><ellipse cx="156.6" cy="160.4" rx="1.6" ry="4.9" transform="rotate(35 156.6 160.4)" fill="#e2e0c0" opacity="0.48"/><ellipse cx="114.7" cy="158.2" rx="1.1" ry="2.8" transform="rotate(35 114.7 158.2)" fill="#e2e0c0" opacity="0.77"/><ellipse cx="123.8" cy="183.0" rx="1.1" ry="5.3" transform="rotate(35 123.8 183.0)" fill="#e2e0c0" opacity="0.79"/><ellipse cx="96.6" cy="175.1" rx="1.4" ry="2.9" transform="rotate(35 96.6 175.1)" fill="#e2e0c0" opacity="0.58"/><ellipse cx="148.2" cy="158.4" rx="1.7" ry="4.7" transform="rotate(35 148.2 158.4)" fill="#e2e0c0" opacity="0.57"/><ellipse cx="138.5" cy="156.8" rx="1.8" ry="4.6" transform="rotate(35 138.5 156.8)" fill="#e2e0c0" opacity="0.70"/><ellipse cx="149.6" cy="162.2" rx="1.0" ry="4.8" transform="rotate(35 149.6 162.2)" fill="#e2e0c0" opacity="0.69"/><ellipse cx="143.8" cy="197.4" rx="1.7" ry="6.5" transform="rotate(35 143.8 197.4)" fill="#e2e0c0" opacity="0.74"/></g>
</g></g>
<polygon points="108.4,21.7 112.2,21.3 115.9,24.7 121.9,27.0 126.4,30.0 135.3,31.5 139.8,35.2 145.0,39.7 145.8,44.9 143.6,49.4 136.8,50.1 132.3,52.4 127.9,56.1 122.6,53.9 118.1,52.4 112.9,55.4 109.9,59.9 109.5,66.0 112.0,74.5 119.4,79.7 122.3,82.0 126.4,88.4 128.5,94.7 126.4,100.0 128.5,107.0 130.6,115.6 127.7,121.2 122.5,124.4 118.5,128.4 123.8,127.7 130.4,128.4 132.3,133.0 130.4,138.3 129.0,143.5 131.0,147.5 134.3,150.8 140.9,147.5 145.3,148.7 152.2,143.6 160.8,145.3 167.6,147.0 169.4,155.6 167.6,165.9 176.2,176.2 183.1,181.4 181.4,190.0 174.5,195.1 172.8,207.2 162.5,214.0 159.0,224.3 150.5,231.2 147.0,239.8 140.8,239.3 138.0,243.6 131.4,238.7 130.3,241.4 124.9,245.0 122.0,246.6 117.9,245.0 111.4,241.4 109.5,243.0 101.0,243.5 91.7,244.0 86.3,242.4 82.3,242.0 78.0,237.7 73.9,233.5 70.7,227.3 71.8,221.0 67.6,215.7 61.6,218.0 54.3,215.0 50.0,210.8 52.2,206.6 56.4,203.5 61.6,201.4 59.5,197.2 51.1,192.0 43.8,190.9 41.7,187.7 35.4,185.6 29.1,183.5 28.0,178.3 30.2,174.1 31.2,168.9 28.0,162.6 24.9,158.4 24.9,154.2 27.0,152.9 32.3,148.7 30.2,144.5 21.8,141.4 13.4,140.3 12.3,134.0 9.2,129.8 11.3,126.7 14.4,122.5 20.7,123.5 24.9,120.4 31.3,122.8 38.1,120.7 43.5,117.4 46.2,115.3 57.0,114.0 65.7,112.6 65.0,109.3 56.3,105.2 51.6,101.9 52.2,97.8 58.3,93.8 60.0,91.0 55.0,88.0 53.9,85.0 47.6,80.9 45.0,77.7 47.6,71.4 50.7,67.3 51.8,63.0 55.0,58.9 60.2,61.0 64.4,60.0 71.7,61.0 73.8,65.0 80.0,65.0 83.0,61.4 87.5,56.9 89.0,50.9 92.7,50.9 97.9,48.7 100.9,44.2 103.2,41.9 104.7,35.9 108.4,31.5 106.2,26.2" fill="none" stroke="#3a3a3a" stroke-width="0.7"/>
<polyline points="60,91 63.4,91.8 67,93 70.6,91.8 76.6,93 80.1,91.2 83.7,88.2 87.3,87.6 88.5,90 86.1,92.4 90.9,90 95.7,86.4 100.5,87 105.3,85.2 107.7,89.4 110.1,94.2 112.5,97.8 114.9,101.3 117.3,103.7 122.1,104.9 126.9,102.5" fill="none" stroke="#3a3a3a" stroke-width="0.6"/>
<polyline points="28.6,178.6 41.2,172.4 52,175 61,177.7 63.6,173.2 72.6,168.8 78.9,163.4 82.5,159.8 87,162.5 89.7,167 95,166 104,163.4 107.7,161.6 113,159.8 118.5,157 123.9,156.2 129.2,152.6 132,147.2 130.6,143" fill="none" stroke="#3a3a3a" stroke-width="0.6"/>
<path d="M90.70,76.90 L86.25,68.17 A9.8,9.8 0 0 1 90.70,67.10 Z" fill="#1fcf8b" stroke="#f4f4ec" stroke-width="0.5"/>
<path d="M90.70,76.90 L90.70,67.10 A9.8,9.8 0 0 1 94.53,85.92 Z" fill="#474545" stroke="#f4f4ec" stroke-width="0.5"/>
<path d="M90.70,76.90 L94.53,85.92 A9.8,9.8 0 0 1 86.25,68.17 Z" fill="#f0a263" stroke="#f4f4ec" stroke-width="0.5"/>
<circle cx="90.7" cy="76.9" r="9.9" fill="none" stroke="#eef0e8" stroke-width="0.7" opacity="0.8"/>
<path d="M77.70,105.90 L77.35,95.91 A10,10 0 0 1 86.36,110.90 Z" fill="#474545" stroke="#f4f4ec" stroke-width="0.5"/>
<path d="M77.70,105.90 L86.36,110.90 A10,10 0 0 1 77.18,115.89 Z" fill="#f0a263" stroke="#f4f4ec" stroke-width="0.5"/>
<path d="M77.70,105.90 L77.18,115.89 A10,10 0 0 1 77.35,95.91 Z" fill="#1fcf8b" stroke="#f4f4ec" stroke-width="0.5"/>
<circle cx="77.7" cy="105.9" r="10.1" fill="none" stroke="#eef0e8" stroke-width="0.7" opacity="0.8"/>
<path d="M100.20,105.50 L99.35,95.74 A9.8,9.8 0 1 1 100.54,115.29 Z" fill="#474545" stroke="#f4f4ec" stroke-width="0.5"/>
<path d="M100.20,105.50 L100.54,115.29 A9.8,9.8 0 0 1 99.35,95.74 Z" fill="#f0a263" stroke="#f4f4ec" stroke-width="0.5"/>
<circle cx="100.2" cy="105.5" r="9.9" fill="none" stroke="#eef0e8" stroke-width="0.7" opacity="0.8"/>
<path d="M83.00,145.80 L82.48,135.91 A9.9,9.9 0 0 1 86.39,155.10 Z" fill="#474545" stroke="#f4f4ec" stroke-width="0.5"/>
<path d="M83.00,145.80 L86.39,155.10 A9.9,9.9 0 1 1 82.48,135.91 Z" fill="#1fcf8b" stroke="#f4f4ec" stroke-width="0.5"/>
<circle cx="83" cy="145.8" r="10.0" fill="none" stroke="#eef0e8" stroke-width="0.7" opacity="0.8"/>
<path d="M105.50,144.70 L105.50,134.80 A9.9,9.9 0 0 1 106.88,154.50 Z" fill="#474545" stroke="#f4f4ec" stroke-width="0.5"/>
<path d="M105.50,144.70 L106.88,154.50 A9.9,9.9 0 1 1 105.50,134.80 Z" fill="#f0a263" stroke="#f4f4ec" stroke-width="0.5"/>
<circle cx="105.5" cy="144.7" r="10.0" fill="none" stroke="#eef0e8" stroke-width="0.7" opacity="0.8"/>
<path d="M95.40,176.50 L95.95,166.01 A10.5,10.5 0 1 1 93.58,186.84 Z" fill="#474545" stroke="#f4f4ec" stroke-width="0.5"/>
<path d="M95.40,176.50 L93.58,186.84 A10.5,10.5 0 0 1 95.95,166.01 Z" fill="#f0a263" stroke="#f4f4ec" stroke-width="0.5"/>
<circle cx="95.4" cy="176.5" r="10.6" fill="none" stroke="#eef0e8" stroke-width="0.7" opacity="0.8"/>
<path d="M117.70,171.00 L118.05,161.11 A9.9,9.9 0 0 1 127.59,171.35 Z" fill="#474545" stroke="#f4f4ec" stroke-width="0.5"/>
<path d="M117.70,171.00 L127.59,171.35 A9.9,9.9 0 0 1 126.88,174.71 Z" fill="#f0a263" stroke="#f4f4ec" stroke-width="0.5"/>
<path d="M117.70,171.00 L126.88,174.71 A9.9,9.9 0 1 1 118.05,161.11 Z" fill="#1fcf8b" stroke="#f4f4ec" stroke-width="0.5"/>
<circle cx="117.7" cy="171" r="10.0" fill="none" stroke="#eef0e8" stroke-width="0.7" opacity="0.8"/>
<path d="M104.30,213.50 L104.87,202.71 A10.8,10.8 0 0 1 105.24,224.26 Z" fill="#474545" stroke="#f4f4ec" stroke-width="0.5"/>
<path d="M104.30,213.50 L105.24,224.26 A10.8,10.8 0 1 1 104.87,202.71 Z" fill="#f0a263" stroke="#f4f4ec" stroke-width="0.5"/>
<circle cx="104.3" cy="213.5" r="10.9" fill="none" stroke="#eef0e8" stroke-width="0.7" opacity="0.8"/>
<path d="M129.30,212.50 L130.08,201.33 A11.2,11.2 0 0 1 140.42,211.14 Z" fill="#474545" stroke="#f4f4ec" stroke-width="0.5"/>
<path d="M129.30,212.50 L140.42,211.14 A11.2,11.2 0 0 1 140.49,212.11 Z" fill="#f0a263" stroke="#f4f4ec" stroke-width="0.5"/>
<path d="M129.30,212.50 L140.49,212.11 A11.2,11.2 0 1 1 130.08,201.33 Z" fill="#1fcf8b" stroke="#f4f4ec" stroke-width="0.5"/>
<circle cx="129.3" cy="212.5" r="11.299999999999999" fill="none" stroke="#eef0e8" stroke-width="0.7" opacity="0.8"/>
<path d="M90.90,232.70 L91.58,223.02 A9.7,9.7 0 0 1 93.08,242.15 Z" fill="#474545" stroke="#f4f4ec" stroke-width="0.5"/>
<path d="M90.90,232.70 L93.08,242.15 A9.7,9.7 0 1 1 91.58,223.02 Z" fill="#f0a263" stroke="#f4f4ec" stroke-width="0.5"/>
<circle cx="90.9" cy="232.7" r="9.799999999999999" fill="none" stroke="#eef0e8" stroke-width="0.7" opacity="0.8"/>
<path d="M114.70,233.20 L115.20,223.61 A9.6,9.6 0 0 1 123.97,235.68 Z" fill="#474545" stroke="#f4f4ec" stroke-width="0.5"/>
<path d="M114.70,233.20 L123.97,235.68 A9.6,9.6 0 0 1 123.60,236.80 Z" fill="#f0a263" stroke="#f4f4ec" stroke-width="0.5"/>
<path d="M114.70,233.20 L123.60,236.80 A9.6,9.6 0 1 1 115.20,223.61 Z" fill="#1fcf8b" stroke="#f4f4ec" stroke-width="0.5"/>
<circle cx="114.7" cy="233.2" r="9.7" fill="none" stroke="#eef0e8" stroke-width="0.7" opacity="0.8"/>
<text x="13.2" y="231.4" font-family="Liberation Serif" font-weight="bold" font-size="7.8" fill="#111" stroke="#111" stroke-width="0.12">Elevation (m)</text>
<rect x="13.3" y="238" width="16.4" height="16.8" fill="url(#elev)"/>
<text x="34.3" y="241" font-family="Liberation Serif" font-size="6.5" fill="#111" stroke="#111" stroke-width="0.1">High: 2794</text>
<text x="34.3" y="258.3" font-family="Liberation Serif" font-size="6.5" fill="#111" stroke="#111" stroke-width="0.1">Low: 0</text>
<rect x="48" y="270" width="32" height="3" fill="#000"/>
<rect x="80" y="270.2" width="32" height="2.6" fill="#fff" stroke="#000" stroke-width="0.4"/>
<rect x="112" y="270" width="63.5" height="3" fill="#000"/>
<text x="48" y="268.2" font-family="Liberation Serif" font-size="5.4" fill="#111" text-anchor="middle">0</text>
<text x="80" y="268.2" font-family="Liberation Serif" font-size="5.4" fill="#111" text-anchor="middle">170</text>
<text x="112" y="268.2" font-family="Liberation Serif" font-size="5.4" fill="#111" text-anchor="middle">340</text>
<text x="175.3" y="268.2" font-family="Liberation Serif" font-size="5.4" fill="#111" text-anchor="middle">680</text>
<text x="177.5" y="274" font-family="Liberation Serif" font-size="4.6" fill="#222">km</text>
<text x="175.8" y="27" font-family="Liberation Serif" font-weight="bold" font-size="5.5" fill="#111" text-anchor="middle">N</text>
<path d="M175.8,29 L171.8,40 L175.8,37.2 Z" fill="#111"/><path d="M175.8,29 L179.8,40 L175.8,37.2 Z" fill="#fff" stroke="#111" stroke-width="0.5"/>
<polygon points="212.2,230.3 212.2,30.1 223.9,18.1 235.6,30.1 235.6,230.3" fill="#b4b2b4" stroke="#56657e" stroke-width="0.9"/>
<circle cx="223.9" cy="40.2" r="4.9" fill="#c00000" stroke="#8a0a10" stroke-width="0.4"/>
<circle cx="223.9" cy="67.9" r="4.9" fill="#c00000" stroke="#8a0a10" stroke-width="0.4"/>
<circle cx="223.9" cy="97.2" r="4.9" fill="#c00000" stroke="#8a0a10" stroke-width="0.4"/>
<circle cx="223.9" cy="136.5" r="4.9" fill="#c00000" stroke="#8a0a10" stroke-width="0.4"/>
<circle cx="223.9" cy="176.3" r="4.9" fill="#c00000" stroke="#8a0a10" stroke-width="0.4"/>
<circle cx="223.9" cy="214" r="4.9" fill="#c00000" stroke="#8a0a10" stroke-width="0.4"/>
<text x="246.3" y="49.8" font-family="Liberation Serif" font-size="12.1" fill="#111" stroke="#111" stroke-width="0.12">L6 (Nanchuan)</text>
<text x="246.3" y="77.4" font-family="Liberation Serif" font-size="12.1" fill="#111" stroke="#111" stroke-width="0.12">L5 (Suiyang)</text>
<text x="246.3" y="105.5" font-family="Liberation Serif" font-size="12.1" fill="#111" stroke="#111" stroke-width="0.12">L4 (Dushan)</text>
<text x="246.3" y="145.0" font-family="Liberation Serif" font-size="12.1" fill="#111" stroke="#111" stroke-width="0.12">L3 (Huanjiang)</text>
<text x="246.3" y="184.0" font-family="Liberation Serif" font-size="12.1" fill="#111" stroke="#111" stroke-width="0.12">L2 (Wuming)</text>
<text x="246.3" y="221.0" font-family="Liberation Serif" font-size="12.1" fill="#111" stroke="#111" stroke-width="0.12">L1 (Longzhou)</text>
<path d="M265.20,259.60 L251.80,261.25 A13.5,13.5 0 0 1 266.61,246.17 Z" fill="#474545" stroke="#fff" stroke-width="0.6"/>
<path d="M265.20,259.60 L270.25,274.26 A15.5,15.5 0 0 1 249.82,261.49 Z" fill="#1fcf8b" stroke="#fff" stroke-width="0.6"/>
<path d="M265.20,259.60 L267.06,241.90 A17.8,17.8 0 0 1 271.00,276.43 Z" fill="#f0a263" stroke="#fff" stroke-width="0.6"/>
<text x="218.1" y="244.7" font-family="Liberation Serif" font-weight="bold" font-size="9.3" fill="#111" stroke="#111" stroke-width="0.15">Other</text>
<text x="218.1" y="255.1" font-family="Liberation Serif" font-weight="bold" font-size="9.3" fill="#111" stroke="#111" stroke-width="0.15">elements</text>
<text x="240.2" y="278.9" font-family="Liberation Serif" font-weight="bold" font-size="9.2" fill="#111">BR<tspan font-size="6.3" dy="2.3">Si</tspan></text>
<text x="286.2" y="263.4" font-family="Liberation Serif" font-weight="bold" font-size="9.2" fill="#111">BR<tspan font-size="6" dy="2">Ca &amp; Mg</tspan></text>
<rect x="381" y="9.4" width="312.2" height="260.9" fill="#fff"/>
<circle cx="394.7" cy="173.6" r="4.2" fill="#f4898e"/><circle cx="394.7" cy="176.3" r="4.2" fill="#f4898e"/><circle cx="394.7" cy="204.1" r="4.2" fill="#f4898e"/><circle cx="409.6" cy="217.7" r="4.2" fill="#f4898e"/><circle cx="409.6" cy="237.7" r="4.2" fill="#f4898e"/><circle cx="409.6" cy="244.9" r="4.2" fill="#f4898e"/><circle cx="409.6" cy="258.6" r="4.2" fill="#f4898e"/><circle cx="478.2" cy="79.3" r="4.2" fill="#f4898e"/><circle cx="478.2" cy="95.9" r="4.2" fill="#f4898e"/><circle cx="478.2" cy="136.6" r="4.2" fill="#f4898e"/><circle cx="478.2" cy="143.4" r="4.2" fill="#f4898e"/><circle cx="478.2" cy="147.1" r="4.2" fill="#f4898e"/><circle cx="557.0" cy="163.8" r="4.2" fill="#f4898e"/><circle cx="557.0" cy="184.1" r="4.2" fill="#f4898e"/><circle cx="557.0" cy="197.4" r="4.2" fill="#f4898e"/><circle cx="557.0" cy="221.1" r="4.2" fill="#f4898e"/><circle cx="557.0" cy="241.5" r="4.2" fill="#f4898e"/><circle cx="627.1" cy="92.5" r="4.2" fill="#f4898e"/><circle cx="627.1" cy="119.3" r="4.2" fill="#f4898e"/><circle cx="627.1" cy="124.8" r="4.2" fill="#f4898e"/><circle cx="627.1" cy="137.6" r="4.2" fill="#f4898e"/><circle cx="674.3" cy="72.9" r="4.2" fill="#f4898e"/><circle cx="674.3" cy="75.2" r="4.2" fill="#f4898e"/><circle cx="674.3" cy="85.7" r="4.2" fill="#f4898e"/><circle cx="674.3" cy="99.7" r="4.2" fill="#f4898e"/><circle cx="674.3" cy="109.5" r="4.2" fill="#f4898e"/><circle cx="427.6" cy="55.5" r="4.2" fill="#5aa6f2"/><circle cx="427.6" cy="58.6" r="4.2" fill="#5aa6f2"/><circle cx="427.6" cy="62.0" r="4.2" fill="#5aa6f2"/><circle cx="427.6" cy="68.4" r="4.2" fill="#5aa6f2"/><circle cx="427.6" cy="113.2" r="4.2" fill="#5aa6f2"/><circle cx="492.5" cy="129.8" r="4.2" fill="#5aa6f2"/><circle cx="492.5" cy="160.4" r="4.2" fill="#5aa6f2"/><circle cx="492.5" cy="164.1" r="4.2" fill="#5aa6f2"/><circle cx="492.5" cy="183.8" r="4.2" fill="#5aa6f2"/><circle cx="556.7" cy="115.9" r="4.2" fill="#5aa6f2"/><circle cx="556.7" cy="126.1" r="4.2" fill="#5aa6f2"/><circle cx="556.7" cy="136.3" r="4.2" fill="#5aa6f2"/><circle cx="556.7" cy="138.7" r="4.2" fill="#5aa6f2"/><circle cx="556.7" cy="145.8" r="4.2" fill="#5aa6f2"/><circle cx="580.8" cy="45.0" r="4.2" fill="#5aa6f2"/><circle cx="580.8" cy="65.7" r="4.2" fill="#5aa6f2"/><circle cx="580.8" cy="78.3" r="4.2" fill="#5aa6f2"/><circle cx="580.8" cy="112.2" r="4.2" fill="#5aa6f2"/><circle cx="580.8" cy="123.1" r="4.2" fill="#5aa6f2"/><circle cx="670.8" cy="133.2" r="4.2" fill="#5aa6f2"/><circle cx="670.8" cy="157.3" r="4.2" fill="#5aa6f2"/><circle cx="670.8" cy="160.4" r="4.2" fill="#5aa6f2"/><circle cx="670.8" cy="187.5" r="4.2" fill="#5aa6f2"/><circle cx="679.3" cy="149.9" r="4.2" fill="#5aa6f2"/><circle cx="679.3" cy="170.6" r="4.2" fill="#5aa6f2"/><circle cx="679.3" cy="183.4" r="4.2" fill="#5aa6f2"/><circle cx="679.3" cy="186.2" r="4.2" fill="#5aa6f2"/>
<polygon points="395.4,179.0 404.7,176.6 414.0,174.1 423.3,171.6 432.6,169.1 441.9,166.5 451.2,163.9 460.5,161.2 469.8,158.5 479.1,155.7 488.4,152.8 497.7,149.9 507.0,146.8 516.3,143.7 525.6,140.5 534.9,137.3 544.2,133.9 553.5,130.5 562.8,126.9 572.1,123.3 581.4,119.6 590.7,115.9 600.0,112.1 609.3,108.2 618.6,104.2 627.9,100.2 637.2,96.2 646.5,92.1 655.8,87.9 665.1,83.8 674.4,79.6 674.4,131.5 665.1,133.9 655.8,136.4 646.5,138.9 637.2,141.4 627.9,144.0 618.6,146.6 609.3,149.3 600.0,152.0 590.7,154.8 581.4,157.7 572.1,160.7 562.8,163.7 553.5,166.8 544.2,170.0 534.9,173.2 525.6,176.6 516.3,180.0 507.0,183.6 497.7,187.2 488.4,190.9 479.1,194.6 469.8,198.5 460.5,202.4 451.2,206.3 441.9,210.3 432.6,214.4 423.3,218.5 414.0,222.6 404.7,226.8 395.4,231.0" fill="#808080" fill-opacity="0.42"/>
<polygon points="427.7,69.4 436.1,72.6 444.5,75.8 452.9,78.9 461.2,82.1 469.6,85.2 478.0,88.2 486.4,91.2 494.8,94.2 503.1,97.1 511.5,99.9 519.9,102.7 528.3,105.4 536.7,108.0 545.1,110.5 553.5,112.8 561.8,115.1 570.2,117.2 578.6,119.1 587.0,121.0 595.4,122.7 603.8,124.4 612.1,125.9 620.5,127.3 628.9,128.7 637.3,129.9 645.7,131.2 654.1,132.3 662.4,133.4 670.8,134.5 679.2,135.6 679.2,179.6 670.8,176.5 662.4,173.4 654.1,170.4 645.7,167.4 637.3,164.4 628.9,161.5 620.5,158.7 612.1,156.0 603.8,153.4 595.4,150.8 587.0,148.4 578.6,146.1 570.2,143.9 561.8,141.9 553.5,140.0 545.1,138.2 536.7,136.5 528.3,134.9 519.9,133.4 511.5,132.0 503.1,130.7 494.8,129.5 486.4,128.3 478.0,127.1 469.6,126.0 461.2,125.0 452.9,123.9 444.5,122.9 436.1,121.9 427.7,121.0" fill="#808080" fill-opacity="0.42"/>
<line x1="395.4" y1="205" x2="674.4" y2="105.5" stroke="#f4898e" stroke-width="1.7"/>
<line x1="427.7" y1="95.2" x2="679.2" y2="157.6" stroke="#5aa6f2" stroke-width="1.7"/>
<rect x="380.5" y="9.5" width="313" height="261" fill="none" stroke="#8a8a8a" stroke-width="1"/>
<line x1="380.5" y1="9" x2="380.5" y2="271" stroke="#4a4a4a" stroke-width="1"/>
<line x1="380" y1="270.5" x2="694" y2="270.5" stroke="#4a4a4a" stroke-width="1"/>
<line x1="378.3" y1="218.1" x2="381" y2="218.1" stroke="#444" stroke-width="0.8"/>
<text x="375.6" y="223.4" font-family="Liberation Sans" font-size="13.6" fill="#4d4d4d" stroke="#4d4d4d" stroke-width="0.2" text-anchor="end">20</text>
<line x1="378.3" y1="150.2" x2="381" y2="150.2" stroke="#444" stroke-width="0.8"/>
<text x="375.6" y="155.5" font-family="Liberation Sans" font-size="13.6" fill="#4d4d4d" stroke="#4d4d4d" stroke-width="0.2" text-anchor="end">40</text>
<line x1="378.3" y1="82.3" x2="381" y2="82.3" stroke="#444" stroke-width="0.8"/>
<text x="375.6" y="87.6" font-family="Liberation Sans" font-size="13.6" fill="#4d4d4d" stroke="#4d4d4d" stroke-width="0.2" text-anchor="end">60</text>
<line x1="378.3" y1="14.5" x2="381" y2="14.5" stroke="#444" stroke-width="0.8"/>
<text x="375.6" y="19.8" font-family="Liberation Sans" font-size="13.6" fill="#4d4d4d" stroke="#4d4d4d" stroke-width="0.2" text-anchor="end">80</text>
<line x1="395.7" y1="270.3" x2="395.7" y2="273" stroke="#444" stroke-width="0.8"/>
<text x="395.7" y="284.8" font-family="Liberation Sans" font-size="13.6" fill="#4d4d4d" stroke="#4d4d4d" stroke-width="0.2" text-anchor="middle">25</text>
<line x1="480.6" y1="270.3" x2="480.6" y2="273" stroke="#444" stroke-width="0.8"/>
<text x="480.6" y="284.8" font-family="Liberation Sans" font-size="13.6" fill="#4d4d4d" stroke="#4d4d4d" stroke-width="0.2" text-anchor="middle">30</text>
<line x1="565.5" y1="270.3" x2="565.5" y2="273" stroke="#444" stroke-width="0.8"/>
<text x="565.5" y="284.8" font-family="Liberation Sans" font-size="13.6" fill="#4d4d4d" stroke="#4d4d4d" stroke-width="0.2" text-anchor="middle">35</text>
<line x1="650.4" y1="270.3" x2="650.4" y2="273" stroke="#444" stroke-width="0.8"/>
<text x="650.4" y="284.8" font-family="Liberation Sans" font-size="13.6" fill="#4d4d4d" stroke="#4d4d4d" stroke-width="0.2" text-anchor="middle">40</text>
<text x="537" y="301" font-family="Liberation Sans" font-size="15.4" fill="#111" stroke="#111" stroke-width="0.25" text-anchor="middle">Adjusted latitude (°)</text>
<text transform="translate(354.9,140.3) rotate(-90)" font-family="Liberation Sans" font-size="15.35" fill="#111" stroke="#111" stroke-width="0.25" text-anchor="middle">Species richness</text>
<text x="396" y="26" font-family="Liberation Sans" font-size="14.55" fill="#111" stroke="#111" stroke-width="0.2" transform="translate(0,26) scale(1,0.95) translate(0,-26)">karst: R² = 0.46, p &lt; 0.001</text>
<text x="396" y="37.9" font-family="Liberation Sans" font-size="14.55" fill="#111" stroke="#111" stroke-width="0.2" transform="translate(0,37.9) scale(1,0.95) translate(0,-37.9)">non-karst: R² = 0.27, p &lt; 0.01</text>
<circle cx="475.6" cy="322.8" r="3.3" fill="#5aa6f2"/>
<text x="484.3" y="326.9" font-family="Liberation Sans" font-size="13.2" fill="#111" stroke="#111" stroke-width="0.2">non-karst</text>
<circle cx="549.5" cy="322.8" r="3.3" fill="#f4898e"/>
<text x="558.2" y="326.9" font-family="Liberation Sans" font-size="13.2" fill="#111" stroke="#111" stroke-width="0.2">karst</text>
</svg>
</body></html>
